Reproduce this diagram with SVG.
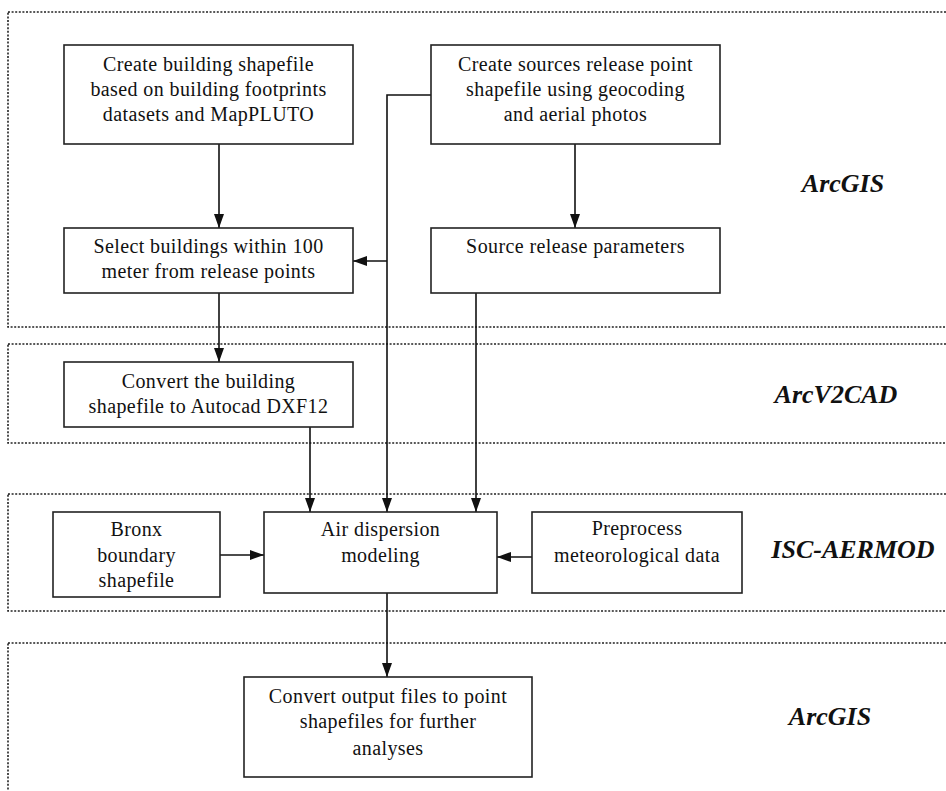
<svg xmlns="http://www.w3.org/2000/svg" width="946" height="791" viewBox="0 0 946 791" font-family="Liberation Serif, Times New Roman, DejaVu Serif, serif">
<defs>
<style>
.region{fill:none;stroke:#222;stroke-width:1.6;stroke-dasharray:2 1.6}
.box{fill:#fff;stroke:#222;stroke-width:1.6}
.t{font-size:20px;fill:#111;text-anchor:middle;letter-spacing:0.4px}
.lab{font-size:26px;font-weight:bold;font-style:italic;fill:#111;text-anchor:middle}
.c{fill:none;stroke:#111;stroke-width:1.6}
</style>
<marker id="ah2" viewBox="0 0 14 10" refX="14" refY="5" markerWidth="14" markerHeight="10" markerUnits="userSpaceOnUse" orient="auto">
<path d="M0,0 L14,5 L0,10 Z" fill="#111"/>
</marker>
</defs>
<rect width="946" height="791" fill="#fff"/>
<g id="regions">
<rect class="region" x="8" y="12" width="950" height="315"/>
<rect class="region" x="8" y="344" width="950" height="99"/>
<rect class="region" x="8" y="494" width="950" height="117"/>
<rect class="region" x="8" y="643" width="950" height="160"/>
<text class="lab" x="843" y="192" font-family="Liberation Serif, serif">ArcGIS</text>
<text class="lab" x="836" y="403" font-family="Liberation Serif, serif">ArcV2CAD</text>
<text class="lab" x="853" y="558" font-family="Liberation Serif, serif">ISC-AERMOD</text>
<text class="lab" x="830" y="725" font-family="Liberation Serif, serif">ArcGIS</text>
</g>
<g id="connectors">
<line class="c" x1="219" y1="144" x2="219" y2="228" marker-end="url(#ah2)"/>
<line class="c" x1="575" y1="144" x2="575" y2="228" marker-end="url(#ah2)"/>
<polyline class="c" points="431,95 387,95 387,512" marker-end="url(#ah2)"/>
<line class="c" x1="387" y1="261" x2="353" y2="261" marker-end="url(#ah2)"/>
<line class="c" x1="219" y1="293" x2="219" y2="362" marker-end="url(#ah2)"/>
<line class="c" x1="310" y1="427" x2="310" y2="512" marker-end="url(#ah2)"/>
<line class="c" x1="476" y1="293" x2="476" y2="512" marker-end="url(#ah2)"/>
<line class="c" x1="220" y1="555" x2="264" y2="555" marker-end="url(#ah2)"/>
<line class="c" x1="532" y1="557" x2="497" y2="557" marker-end="url(#ah2)"/>
<line class="c" x1="387" y1="593" x2="387" y2="677" marker-end="url(#ah2)"/>
</g>
<g id="n1">
<rect class="box" x="64" y="45" width="289" height="99"/>
<text class="t" x="208.5" y="71">Create building shapefile</text>
<text class="t" x="208.5" y="96">based on building footprints</text>
<text class="t" x="208.5" y="121">datasets and MapPLUTO</text>
</g>
<g id="n2">
<rect class="box" x="431" y="45" width="289" height="99"/>
<text class="t" x="575.5" y="71">Create sources release point</text>
<text class="t" x="575.5" y="96">shapefile using geocoding</text>
<text class="t" x="575.5" y="121">and aerial photos</text>
</g>
<g id="n3">
<rect class="box" x="64" y="228" width="289" height="65"/>
<text class="t" x="208.5" y="253">Select buildings within 100</text>
<text class="t" x="208.5" y="278">meter from release points</text>
</g>
<g id="n4">
<rect class="box" x="431" y="228" width="289" height="65"/>
<text class="t" x="575.5" y="253">Source release parameters</text>
</g>
<g id="n5">
<rect class="box" x="64" y="362" width="289" height="65"/>
<text class="t" x="208.5" y="388">Convert the building</text>
<text class="t" x="208.5" y="413">shapefile to Autocad DXF12</text>
</g>
<g id="n6">
<rect class="box" x="53" y="512" width="167" height="85"/>
<text class="t" x="136.5" y="536">Bronx</text>
<text class="t" x="136.5" y="562">boundary</text>
<text class="t" x="136.5" y="587">shapefile</text>
</g>
<g id="n7">
<rect class="box" x="264" y="512" width="233" height="81"/>
<text class="t" x="380.5" y="536">Air dispersion</text>
<text class="t" x="380.5" y="562">modeling</text>
</g>
<g id="n8">
<rect class="box" x="532" y="512" width="210" height="81"/>
<text class="t" x="637" y="535">Preprocess</text>
<text class="t" x="637" y="562">meteorological data</text>
</g>
<g id="n9">
<rect class="box" x="244" y="677" width="288" height="100"/>
<text class="t" x="388" y="703">Convert output files to point</text>
<text class="t" x="388" y="728">shapefiles for further</text>
<text class="t" x="388" y="755">analyses</text>
</g>
</svg>
